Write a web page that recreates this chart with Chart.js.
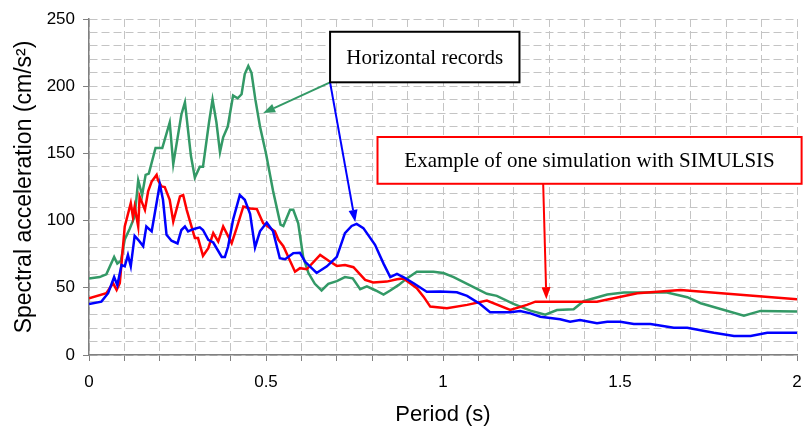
<!DOCTYPE html>
<html>
<head>
<meta charset="utf-8">
<title>Spectral acceleration</title>
<script src="https://cdn.jsdelivr.net/npm/chart.js@4/dist/chart.umd.min.js"></script>
<style>
  html, body { margin: 0; padding: 0; background: #fff; }
  #wrap { width: 803px; height: 426px; }
</style>
</head>
<body>
<div id="wrap"><canvas id="chart" width="803" height="426"></canvas></div>
<script>
// Horizontal record 1 (green)
const greenPeriod = [0, 0.03, 0.049, 0.071, 0.08, 0.09, 0.101, 0.115, 0.129, 0.139, 0.15, 0.16, 0.169, 0.188, 0.207, 0.228, 0.238, 0.261, 0.271, 0.288, 0.299, 0.313, 0.322, 0.339, 0.349, 0.36, 0.37, 0.379, 0.392, 0.407, 0.42, 0.431, 0.44, 0.45, 0.459, 0.47, 0.483, 0.5, 0.52, 0.541, 0.549, 0.568, 0.577, 0.591, 0.605, 0.62, 0.638, 0.657, 0.676, 0.7, 0.723, 0.745, 0.766, 0.785, 0.81, 0.832, 0.851, 0.874, 0.898, 0.926, 0.973, 1.001, 1.03, 1.068, 1.124, 1.152, 1.199, 1.247, 1.289, 1.322, 1.369, 1.397, 1.464, 1.511, 1.633, 1.69, 1.728, 1.85, 1.897, 2.0];
const greenAccel = [57, 58, 60, 73, 68, 70, 86, 94, 103, 130, 119, 134, 135, 154, 154, 173, 142, 179, 188, 148, 132, 140, 140, 173, 190, 173, 151, 162, 170, 193, 191, 194, 209, 215, 210, 190, 170, 150, 122, 97, 96, 108, 108, 98, 73, 61, 53, 48, 53, 55, 58, 57, 49, 51, 48, 45, 48, 52, 57, 62, 62, 61, 58, 53, 45.5, 44, 38, 33, 30, 33.5, 34, 40, 45, 46.5, 46.5, 43, 38.5, 29.3, 32.8, 32.3];

// Horizontal record 2 (blue)
const bluePeriod = [0, 0.035, 0.054, 0.071, 0.08, 0.092, 0.101, 0.11, 0.118, 0.129, 0.139, 0.153, 0.162, 0.177, 0.186, 0.2, 0.209, 0.219, 0.233, 0.25, 0.261, 0.271, 0.28, 0.294, 0.313, 0.322, 0.337, 0.351, 0.375, 0.384, 0.393, 0.407, 0.426, 0.44, 0.455, 0.469, 0.483, 0.502, 0.52, 0.539, 0.554, 0.577, 0.596, 0.61, 0.643, 0.672, 0.7, 0.723, 0.742, 0.756, 0.775, 0.808, 0.832, 0.851, 0.87, 0.888, 0.917, 0.954, 0.992, 1.039, 1.068, 1.105, 1.133, 1.19, 1.218, 1.247, 1.275, 1.331, 1.359, 1.387, 1.435, 1.464, 1.501, 1.539, 1.586, 1.652, 1.69, 1.765, 1.822, 1.869, 1.916, 2.0];
const blueAccel = [38, 39.7, 46, 58, 52, 67, 66, 74.5, 66, 88.7, 85.7, 81, 95.6, 92, 105.6, 127, 115.5, 89.4, 85, 83, 93, 95.6, 92, 93.6, 95, 93, 85.7, 83.7, 73, 73, 80.7, 100.6, 119, 115.5, 105, 80, 92, 98.6, 92, 72, 71.3, 75.8, 76, 69.5, 61, 66, 73, 90.7, 96, 97.6, 94.4, 82, 68, 58, 60.4, 58, 53.4, 47, 47.2, 46.7, 44, 38, 31.8, 31.8, 32.8, 31, 28.5, 26.6, 24.8, 26, 23.6, 24.8, 24.8, 23, 23, 20.3, 20.3, 16.6, 14.2, 14.2, 16.6, 16.6];

// SIMULSIS simulation (red)
const redPeriod = [0, 0.049, 0.068, 0.078, 0.087, 0.101, 0.118, 0.124, 0.129, 0.139, 0.143, 0.158, 0.167, 0.177, 0.191, 0.195, 0.205, 0.214, 0.228, 0.238, 0.257, 0.266, 0.276, 0.299, 0.308, 0.322, 0.337, 0.351, 0.365, 0.379, 0.403, 0.417, 0.436, 0.455, 0.474, 0.492, 0.525, 0.535, 0.549, 0.582, 0.596, 0.615, 0.653, 0.676, 0.7, 0.723, 0.747, 0.78, 0.803, 0.841, 0.87, 0.888, 0.907, 0.926, 0.945, 0.964, 1.011, 1.068, 1.124, 1.19, 1.237, 1.261, 1.435, 1.549, 1.671, 2.0];
const redAccel = [42.2, 46, 53.4, 48.4, 53.4, 95.6, 113, 103, 110.5, 95.6, 118, 108, 121.7, 129, 134, 130, 125.4, 125, 115.5, 99.3, 118, 119, 108, 87, 87, 73.8, 79.5, 90.7, 84.4, 95.6, 83.2, 94.4, 110.5, 109, 108.6, 98, 92, 85.7, 81, 62, 64.6, 63.8, 74.5, 70.3, 66.3, 67, 65.3, 55.9, 53.9, 54.6, 56.4, 57, 53.4, 49.7, 43.4, 36, 34.8, 37.3, 40.5, 33.5, 37.3, 39.7, 39.7, 46, 48.4, 41.5];

// Axis ticks
const xLabelTicks = [0, 0.5, 1, 1.5, 2];
const yLabelTicks = [0, 50, 100, 150, 200, 250];

function toPoints(xs, ys) {
  return xs.map(function(v, i) { return { x: v, y: ys[i] }; });
}

function isLabelTick(list, v) {
  return list.some(function(t) { return Math.abs(t - v) < 1e-6; });
}

// Callout boxes and arrows, given in data units
const callouts = [
  { text: 'Horizontal records', x0: 0.681, x1: 1.216, y0: 240.5, y1: 202.9, border: '#000000' },
  { text: 'Example of one simulation with SIMULSIS', x0: 0.815, x1: 2.013, y0: 162.2, y1: 127.4, border: '#ff0000' }
];
const arrows = [
  { from: [0.681, 202.9], to: [0.492, 180], color: '#339966' },
  { from: [0.681, 202.9], to: [0.752, 99], color: '#0000ff' },
  { from: [1.283, 127.4], to: [1.292, 41.5], color: '#ff0000' }
];

const calloutPlugin = {
  id: 'callouts',
  afterDraw(chart) {
    const ctx = chart.ctx;
    const x = chart.scales.x;
    const y = chart.scales.y;
    ctx.save();
    arrows.forEach(function(a) {
      const x1 = x.getPixelForValue(a.from[0]);
      const y1 = y.getPixelForValue(a.from[1]);
      const x2 = x.getPixelForValue(a.to[0]);
      const y2 = y.getPixelForValue(a.to[1]);
      const ang = Math.atan2(y2 - y1, x2 - x1);
      const headLen = 12;
      const headW = 4.5;
      const bx = x2 - headLen * Math.cos(ang);
      const by = y2 - headLen * Math.sin(ang);
      ctx.strokeStyle = a.color;
      ctx.fillStyle = a.color;
      ctx.lineWidth = 2;
      ctx.beginPath();
      ctx.moveTo(x1, y1);
      ctx.lineTo(bx, by);
      ctx.stroke();
      ctx.beginPath();
      ctx.moveTo(x2, y2);
      ctx.lineTo(bx + headW * Math.sin(ang), by - headW * Math.cos(ang));
      ctx.lineTo(bx - headW * Math.sin(ang), by + headW * Math.cos(ang));
      ctx.closePath();
      ctx.fill();
    });
    callouts.forEach(function(c) {
      const left = x.getPixelForValue(c.x0);
      const right = x.getPixelForValue(c.x1);
      const top = y.getPixelForValue(c.y0);
      const bottom = y.getPixelForValue(c.y1);
      ctx.fillStyle = '#ffffff';
      ctx.fillRect(left, top, right - left, bottom - top);
      ctx.strokeStyle = c.border;
      ctx.lineWidth = 2;
      ctx.strokeRect(left, top, right - left, bottom - top);
      ctx.fillStyle = '#000000';
      ctx.font = '21px "Liberation Serif", "Times New Roman", serif';
      ctx.textAlign = 'center';
      ctx.textBaseline = 'middle';
      ctx.fillText(c.text, (left + right) / 2, (top + bottom) / 2 + 1);
    });
    ctx.restore();
  }
};

const sansFont = '"Liberation Sans", Arial, sans-serif';

new Chart(document.getElementById('chart').getContext('2d'), {
  type: 'line',
  data: {
    datasets: [
      { label: 'Record 2', data: toPoints(bluePeriod, blueAccel), borderColor: '#0000ff' },
      { label: 'SIMULSIS', data: toPoints(redPeriod, redAccel), borderColor: '#ff0000' },
      { label: 'Record 1', data: toPoints(greenPeriod, greenAccel), borderColor: '#339966' }
    ]
  },
  options: {
    responsive: false,
    animation: false,
    elements: {
      line: { borderWidth: 2.5, tension: 0, fill: false },
      point: { radius: 0, hoverRadius: 0 }
    },
    layout: { padding: { top: 19, right: 6, left: 0, bottom: 0 } },
    plugins: {
      legend: { display: false },
      tooltip: { enabled: false }
    },
    scales: {
      x: {
        type: 'linear',
        min: 0,
        max: 2,
        afterFit: function(scale) {
          scale.height = 71;
          scale.paddingLeft = 0;
          scale.paddingRight = 0;
        },
        ticks: {
          stepSize: 0.1,
          autoSkip: false,
          maxRotation: 0,
          padding: 11,
          color: '#000',
          font: { family: sansFont, size: 17 },
          callback: function(v) { return isLabelTick(xLabelTicks, v) ? String(Math.round(v * 10) / 10) : ''; }
        },
        grid: { color: '#c4c4c4', lineWidth: 1, tickColor: '#808080', tickLength: 6 },
        border: { color: '#808080', width: 1.5, dash: [8, 4] },
        title: { display: true, text: 'Period (s)', color: '#000', font: { family: sansFont, size: 22, lineHeight: 1 }, padding: { top: 0, bottom: 0 } }
      },
      y: {
        min: 0,
        max: 250,
        afterFit: function(scale) { scale.width = 89; },
        ticks: {
          stepSize: 10,
          autoSkip: false,
          padding: 8,
          color: '#000',
          font: { family: sansFont, size: 17 },
          callback: function(v) { return isLabelTick(yLabelTicks, v) ? String(v) : ''; }
        },
        grid: {
          color: '#c4c4c4',
          lineWidth: 1,
          tickLength: 6,
          tickColor: function(c) { return c.tick && isLabelTick(yLabelTicks, c.tick.value) ? '#808080' : 'rgba(0,0,0,0)'; }
        },
        border: { color: '#808080', width: 1.5, dash: [8, 4] },
        title: { display: true, text: 'Spectral acceleration (cm/s²)', color: '#000', font: { family: sansFont, size: 23 }, padding: { top: 11, bottom: 0 } }
      }
    }
  },
  plugins: [calloutPlugin]
});
</script>
</body>
</html>
